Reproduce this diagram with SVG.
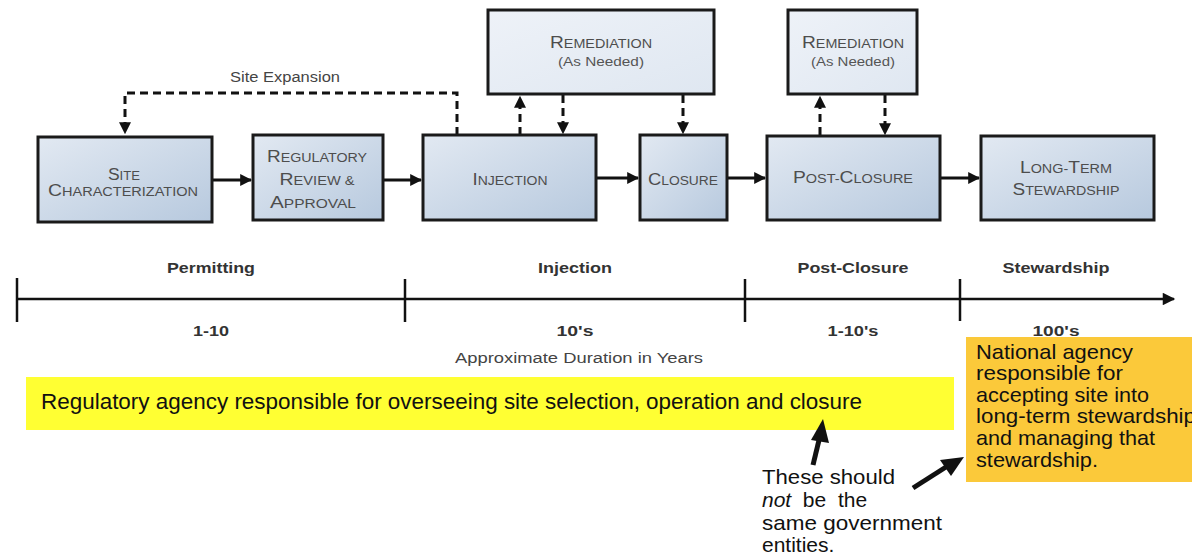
<svg xmlns="http://www.w3.org/2000/svg" width="1192" height="556" viewBox="0 0 1192 556">
<defs>
<linearGradient id="g" x1="0" y1="0" x2="1" y2="1">
<stop offset="0" stop-color="#e2e9f2"/>
<stop offset="1" stop-color="#b7c9de"/>
</linearGradient>
<linearGradient id="g2" x1="0" y1="0" x2="1" y2="1">
<stop offset="0" stop-color="#eef2f8"/>
<stop offset="1" stop-color="#dfe7f1"/>
</linearGradient>
<marker id="ah" viewBox="0 0 10 10" refX="9" refY="5" markerWidth="4" markerHeight="4" orient="auto" markerUnits="strokeWidth">
<path d="M0,0 L10,5 L0,10 z" fill="#111"/>
</marker>
<marker id="ah2" viewBox="0 0 10 10" refX="9" refY="5" markerWidth="6" markerHeight="5" orient="auto" markerUnits="strokeWidth">
<path d="M0,0 L10,5 L0,10 z" fill="#111"/>
</marker>
</defs>
<style>
.box{fill:url(#g);stroke:#1a1a1a;stroke-width:3}
.rbox{fill:url(#g2);stroke:#1a1a1a;stroke-width:3}
.bt{font-family:"Liberation Sans",Arial,sans-serif;font-size:12px;fill:#4d4d4d;text-anchor:middle}
.L{font-size:16px}
.st{font-family:"Liberation Sans",Arial,sans-serif;font-size:12px;fill:#555;text-anchor:middle}
.flow{stroke:#111;stroke-width:3;fill:none;marker-end:url(#ah)}
.dash{stroke:#111;stroke-width:3;fill:none;stroke-dasharray:8,5;marker-end:url(#ah)}
.tl{font-family:"Liberation Sans",Arial,sans-serif;font-size:15px;fill:#333;text-anchor:middle;font-weight:bold}
.tick{stroke:#111;stroke-width:2.5}
.note{font-family:"Liberation Sans",Arial,sans-serif;font-size:22px;fill:#111}
.on{font-family:"Liberation Sans",Arial,sans-serif;font-size:21px;fill:#111}
</style>
<g id="connectors">
<path class="dash" d="M457,135 V93 H125 V133"/>
<path class="flow" d="M212,180 H251"/>
<path class="flow" d="M383,180 H421"/>
<path class="flow" d="M596,178 H638"/>
<path class="flow" d="M727,178 H765"/>
<path class="flow" d="M940,178 H979"/>
<path class="dash" d="M520,135 V97"/>
<path class="dash" d="M563,95 V133"/>
<path class="dash" d="M683,95 V133"/>
<path class="dash" d="M820,135 V97"/>
<path class="dash" d="M885,95 V134"/>
</g>
<text class="st" x="285" y="82" style="font-size:14px;fill:#444" textLength="110" lengthAdjust="spacingAndGlyphs">Site Expansion</text>
<g id="remediation1">
<rect class="rbox" x="488" y="10" width="226" height="84"/>
<text class="bt" x="601" y="48" textLength="102" lengthAdjust="spacingAndGlyphs"><tspan class="L">R</tspan>EMEDIATION</text>
<text class="st" x="601" y="66" textLength="86" lengthAdjust="spacingAndGlyphs">(As Needed)</text>
</g>
<g id="remediation2">
<rect class="rbox" x="788" y="10" width="129" height="84"/>
<text class="bt" x="853" y="48" textLength="102" lengthAdjust="spacingAndGlyphs"><tspan class="L">R</tspan>EMEDIATION</text>
<text class="st" x="853" y="66" textLength="84" lengthAdjust="spacingAndGlyphs">(As Needed)</text>
</g>
<g id="site">
<rect class="box" x="38" y="137" width="174" height="85"/>
<text class="bt" x="124" y="180" textLength="32" lengthAdjust="spacingAndGlyphs"><tspan class="L">S</tspan>ITE</text>
<text class="bt" x="123" y="196" textLength="150" lengthAdjust="spacingAndGlyphs"><tspan class="L">C</tspan>HARACTERIZATION</text>
</g>
<g id="regulatory">
<rect class="box" x="253" y="135" width="130" height="85"/>
<text class="bt" x="317" y="162" textLength="100" lengthAdjust="spacingAndGlyphs"><tspan class="L">R</tspan>EGULATORY</text>
<text class="bt" x="317" y="185" textLength="75" lengthAdjust="spacingAndGlyphs"><tspan class="L">R</tspan>EVIEW &amp;</text>
<text class="bt" x="313" y="208" textLength="86" lengthAdjust="spacingAndGlyphs"><tspan class="L">A</tspan>PPROVAL</text>
</g>
<g id="injection">
<rect class="box" x="423" y="135" width="173" height="85"/>
<text class="bt" x="510" y="185" textLength="75" lengthAdjust="spacingAndGlyphs"><tspan class="L">I</tspan>NJECTION</text>
</g>
<g id="closure">
<rect class="box" x="640" y="135" width="87" height="85"/>
<text class="bt" x="683" y="185" textLength="70" lengthAdjust="spacingAndGlyphs"><tspan class="L">C</tspan>LOSURE</text>
</g>
<g id="postclosure">
<rect class="box" x="767" y="136" width="173" height="84"/>
<text class="bt" x="853" y="183" textLength="120" lengthAdjust="spacingAndGlyphs"><tspan class="L">P</tspan>OST-<tspan class="L">C</tspan>LOSURE</text>
</g>
<g id="longterm">
<rect class="box" x="981" y="136" width="173" height="84"/>
<text class="bt" x="1066" y="173" textLength="92" lengthAdjust="spacingAndGlyphs"><tspan class="L">L</tspan>ONG-<tspan class="L">T</tspan>ERM</text>
<text class="bt" x="1066" y="195" textLength="107" lengthAdjust="spacingAndGlyphs"><tspan class="L">S</tspan>TEWARDSHIP</text>
</g>
<g id="timeline">
<line x1="17" y1="299" x2="1174" y2="299" stroke="#111" stroke-width="2.5" marker-end="url(#ah2)"/>
<line class="tick" x1="17" y1="278" x2="17" y2="322"/>
<line class="tick" x1="405" y1="279" x2="405" y2="322"/>
<line class="tick" x1="745" y1="279" x2="745" y2="322"/>
<line class="tick" x1="960" y1="279" x2="960" y2="321"/>
<text class="tl" x="211" y="273" textLength="88" lengthAdjust="spacingAndGlyphs">Permitting</text>
<text class="tl" x="575" y="273" textLength="74" lengthAdjust="spacingAndGlyphs">Injection</text>
<text class="tl" x="853" y="273" textLength="111" lengthAdjust="spacingAndGlyphs">Post-Closure</text>
<text class="tl" x="1056" y="273" textLength="107" lengthAdjust="spacingAndGlyphs">Stewardship</text>
<text class="tl" x="211" y="336" textLength="36" lengthAdjust="spacingAndGlyphs">1-10</text>
<text class="tl" x="575" y="336" textLength="37" lengthAdjust="spacingAndGlyphs">10's</text>
<text class="tl" x="853" y="336" textLength="51" lengthAdjust="spacingAndGlyphs">1-10's</text>
<text class="tl" x="1056" y="336" textLength="47" lengthAdjust="spacingAndGlyphs">100's</text>
<text class="st" x="579" y="363" style="font-size:14px;fill:#444" textLength="248" lengthAdjust="spacingAndGlyphs">Approximate Duration in Years</text>
</g>
<g id="regulatory-note">
<rect x="26" y="377" width="928" height="53" fill="#ffff33"/>
<text class="note" x="41" y="409" textLength="821" lengthAdjust="spacingAndGlyphs">Regulatory agency responsible for overseeing site selection, operation and closure</text>
</g>
<g id="national-note">
<rect x="966" y="337" width="226" height="145" fill="#fbc93a"/>
<text class="on" x="976" y="359" textLength="157" lengthAdjust="spacingAndGlyphs">National agency</text>
<text class="on" x="976" y="380" textLength="147" lengthAdjust="spacingAndGlyphs">responsible for</text>
<text class="on" x="976" y="402" textLength="173" lengthAdjust="spacingAndGlyphs">accepting site into</text>
<text class="on" x="976" y="423" textLength="220" lengthAdjust="spacingAndGlyphs">long-term stewardship</text>
<text class="on" x="976" y="445" textLength="179" lengthAdjust="spacingAndGlyphs">and managing that</text>
<text class="on" x="976" y="467" textLength="122" lengthAdjust="spacingAndGlyphs">stewardship.</text>
</g>
<g id="comment">
<text class="on" x="762" y="484" textLength="133" lengthAdjust="spacingAndGlyphs">These should</text>
<text class="on" x="762" y="507"><tspan font-style="italic">not</tspan>&#160; be&#160; the</text>
<text class="on" x="762" y="530" textLength="180" lengthAdjust="spacingAndGlyphs">same government</text>
<text class="on" x="762" y="552">entities.</text>
<path d="M813,465 L820,436" stroke="#111" stroke-width="5" fill="none"/>
<path d="M823,419 L811,440 L829,443 z" fill="#111"/>
<path d="M913,488 L946,467" stroke="#111" stroke-width="5" fill="none"/>
<path d="M964,457 L940,460 L951,476 z" fill="#111"/>
</g>
</svg>
